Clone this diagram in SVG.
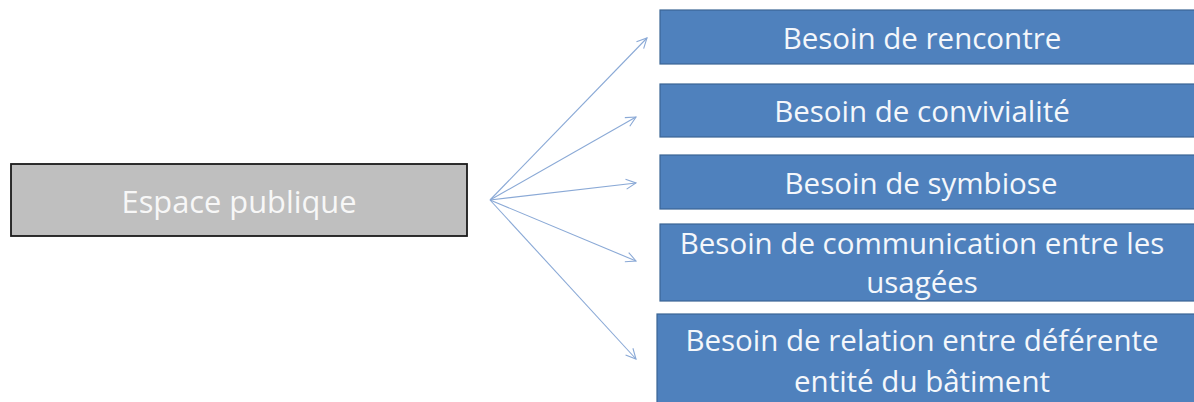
<svg xmlns="http://www.w3.org/2000/svg" width="1194" height="402" viewBox="0 0 1194 402">
<defs>
<style>
.blue{fill:#4F81BD;stroke:#3B6594;stroke-width:1.2}
.gray{fill:#BFBFBF;stroke:#1a1a1a;stroke-width:1.8}
.t{font-family:"Open Sans","Noto Sans",sans-serif;font-size:29.5px;fill:#F4F7FB;text-anchor:middle}
.tg{font-family:"Open Sans","Noto Sans",sans-serif;font-size:30.8px;fill:#F7F7F7;text-anchor:middle}
.c{fill:none;stroke:#8AA9D6;stroke-width:1.1}
</style>
<marker id="arr" viewBox="0 0 12 12" refX="11" refY="6" markerWidth="12" markerHeight="12" markerUnits="userSpaceOnUse" orient="auto">
<path d="M1,1 L11,6 L1,11" fill="none" stroke="#8AA9D6" stroke-width="1.1"/>
</marker>
</defs>
<rect width="1194" height="402" fill="#FFFFFF"/>
<g id="connectors">
<line class="c" x1="490" y1="200" x2="647" y2="38" marker-end="url(#arr)"/>
<line class="c" x1="490" y1="200" x2="636" y2="117" marker-end="url(#arr)"/>
<line class="c" x1="490" y1="200" x2="636" y2="183" marker-end="url(#arr)"/>
<line class="c" x1="490" y1="200" x2="636" y2="261" marker-end="url(#arr)"/>
<line class="c" x1="490" y1="200" x2="636" y2="359" marker-end="url(#arr)"/>
</g>
<g id="espace">
<rect class="gray" x="11" y="164" width="456" height="72"/>
<text class="tg" x="239" y="213">Espace publique</text>
</g>
<g id="rencontre">
<rect class="blue" x="660" y="10" width="540" height="54"/>
<text class="t" x="922" y="49">Besoin de rencontre</text>
</g>
<g id="convivialite">
<rect class="blue" x="660" y="84" width="540" height="53"/>
<text class="t" x="922" y="122">Besoin de convivialité</text>
</g>
<g id="symbiose">
<rect class="blue" x="660" y="155" width="540" height="54"/>
<text class="t" x="921" y="194">Besoin de symbiose</text>
</g>
<g id="communication">
<rect class="blue" x="660" y="224" width="540" height="77"/>
<text class="t" x="922" y="254">Besoin de communication entre les</text>
<text class="t" x="922" y="293">usagées</text>
</g>
<g id="relation">
<rect class="blue" x="657" y="314" width="543" height="95"/>
<text class="t" x="922" y="351">Besoin de relation entre déférente</text>
<text class="t" x="922" y="392">entité du bâtiment</text>
</g>
</svg>
